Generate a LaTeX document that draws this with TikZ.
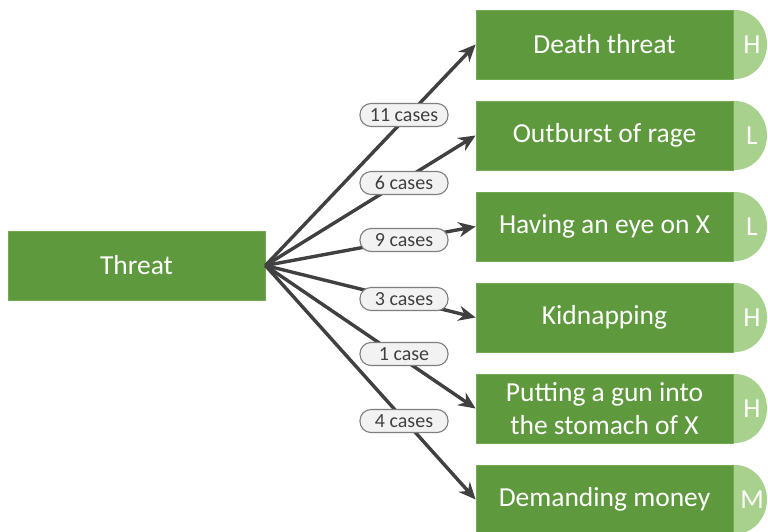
\documentclass[tikz,border=0pt]{standalone}
\usepackage{fontspec}
\setmainfont{Carlito}
\usetikzlibrary{arrows.meta}
\definecolor{boxgreen}{HTML}{5E993D}
\definecolor{boxedge}{HTML}{72AA52}
\definecolor{capgreen}{HTML}{A9D18E}
\definecolor{linegray}{HTML}{404040}
\definecolor{pillfill}{HTML}{F2F2F2}
\definecolor{pilledge}{HTML}{7F7F7F}
\begin{document}
\begin{tikzpicture}[x=1pt,y=-1pt,
  greenbox/.style={fill=boxgreen,draw=boxedge,line width=0.8pt,minimum width=257pt,minimum height=69pt,
    inner sep=0pt,text=white,align=center,font=\fontsize{27.5}{33}\selectfont},
  caplabel/.style={text=white,font=\fontsize{27.5}{33}\selectfont,inner sep=0pt},
  link/.style={draw=linegray,line width=3.4pt,-{Stealth[length=17pt,width=15pt]}},
  pill/.style={fill=pillfill,draw=pilledge,line width=1.1pt,rounded corners=11pt,minimum width=88pt,
    minimum height=23pt,inner sep=0pt,text=linegray,font=\fontsize{20}{22}\selectfont}]
\useasboundingbox (0,0) rectangle (768,531);
\fill[white] (0,0) rectangle (768,531);

% source box
\node[greenbox] (threat) at (136.5,265.5) {Threat};

% risk caps behind the outcome boxes
\foreach \t/\lab in {10/H,101/L,192/L,283/H,374/H,465/M}{
  \fill[capgreen] (728,\t) -- (735,\t) arc[start angle=-90,end angle=90,x radius=32,y radius=34.5] -- (728,\t+69) -- cycle;
  \node[caplabel] (cap\t) at (752,\t+34.5) {\lab};
}

% outcome boxes
\node[greenbox] (b1) at (604.5,44.5) {Death threat};
\node[greenbox] (b2) at (604.5,135.5) {Outburst of rage};
\node[greenbox] (b3) at (604.5,226.5) {Having an eye on X};
\node[greenbox] (b4) at (604.5,317.5) {Kidnapping};
\node[greenbox] (b5) at (604.5,408.5) {Putting a gun into\\the stomach of X};
\node[greenbox] (b6) at (604.5,499.5) {Demanding money};

% connectors
\draw[link] (threat.east) -- (b1.west);
\draw[link] (threat.east) -- (b2.west);
\draw[link] (threat.east) -- (b3.west);
\draw[link] (threat.east) -- (b4.west);
\draw[link] (threat.east) -- (b5.west);
\draw[link] (threat.east) -- (b6.west);

% case counts laid over the connectors
\node[pill] (c1) at (404,115) {11 cases};
\node[pill] (c2) at (404,183) {6 cases};
\node[pill] (c3) at (404,240) {9 cases};
\node[pill] (c4) at (404,299) {3 cases};
\node[pill] (c5) at (404,354) {1 case};
\node[pill] (c6) at (404,421) {4 cases};
\end{tikzpicture}
\end{document}
